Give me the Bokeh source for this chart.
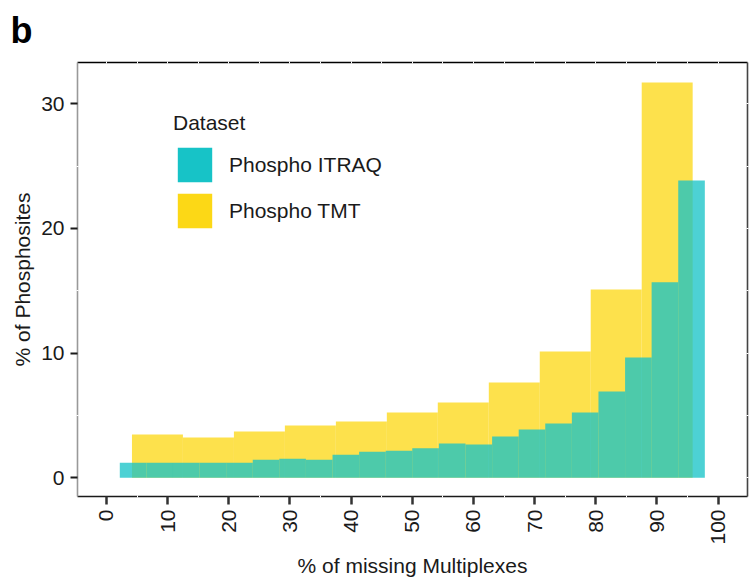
import math

from bokeh.plotting import figure
from bokeh.models import Range1d, LinearAxis, FixedTicker, Legend, LegendItem
from bokeh.embed import file_html
from bokeh.resources import INLINE

FONT = "Liberation Sans"
ITRAQ_COLOR = "#17C3C7"
TMT_COLOR = "#FCD816"
BAR_ALPHA = 0.77

# % of missing multiplexes (bin centres) and % of phosphosites per bin
itraq_missing = [4.35, 8.70, 13.04, 17.39, 21.74, 26.09, 30.43, 34.78, 39.13, 43.48, 47.83,
                 52.17, 56.52, 60.87, 65.22, 69.57, 73.91, 78.26, 82.61, 86.96, 91.30, 95.65]
itraq_pct = [1.20, 1.20, 1.20, 1.20, 1.20, 1.44, 1.52, 1.44, 1.84, 2.08, 2.17,
             2.37, 2.75, 2.67, 3.31, 3.87, 4.36, 5.24, 6.92, 9.65, 15.69, 23.85]
itraq_bin_width = 4.35

tmt_missing = [8.33, 16.67, 25.00, 33.33, 41.67, 50.00, 58.33, 66.67, 75.00, 83.33, 91.67]
tmt_pct = [3.47, 3.23, 3.71, 4.20, 4.52, 5.24, 6.04, 7.64, 10.13, 15.10, 31.71]
tmt_bin_width = 8.33

x_ticks = [0, 10, 20, 30, 40, 50, 60, 70, 80, 90, 100]
x_minor = [5, 15, 25, 35, 45, 55, 65, 75, 85, 95]
x_every5 = [0, 5, 10, 15, 20, 25, 30, 35, 40, 45, 50, 55, 60, 65, 70, 75, 80, 85, 90, 95, 100]
y_ticks = [0, 10, 20, 30]
y_minor = [5, 15, 25]
y_every5 = [0, 5, 10, 15, 20, 25, 30]

p = figure(width=750, height=582, output_backend="svg", toolbar_location=None,
           x_range=Range1d(-4.74, 104.8), y_range=Range1d(-1.5, 33.31),
           x_axis_location=None, y_axis_location=None,
           min_border_left=77, min_border_right=3, min_border_top=62, min_border_bottom=86)
p.grid.grid_line_color = None
p.outline_line_color = None
p.background_fill_color = "white"
p.border_fill_color = "white"

# panel letter
p.title.text = "b"
p.title.text_font = FONT
p.title.text_font_size = "36px"
p.title.text_font_style = "bold"
p.title.text_color = "black"
p.title.align = "left"
p.title.vertical_align = "top"
p.title.offset = -67
p.title.standoff = 17

# histogram bars: TMT underneath, ITRAQ on top
p.vbar(x=tmt_missing, top=tmt_pct, bottom=0, width=tmt_bin_width,
       fill_color=TMT_COLOR, fill_alpha=BAR_ALPHA, line_color=None)
p.vbar(x=itraq_missing, top=itraq_pct, bottom=0, width=itraq_bin_width,
       fill_color=ITRAQ_COLOR, fill_alpha=BAR_ALPHA, line_color=None)

# solid, hidden copies of the series that only feed the legend swatches
sw_itraq = p.vbar(x=itraq_missing, top=itraq_pct, width=itraq_bin_width,
                  fill_color=ITRAQ_COLOR, fill_alpha=1, line_color=None, visible=False)
sw_tmt = p.vbar(x=tmt_missing, top=tmt_pct, width=tmt_bin_width,
                fill_color=TMT_COLOR, fill_alpha=1, line_color=None, visible=False)

# bottom axis
xb = LinearAxis(ticker=FixedTicker(ticks=x_ticks, minor_ticks=x_minor),
                axis_label="% of missing Multiplexes")
xb.axis_line_color = "#1a1a1a"
xb.axis_line_width = 1.6
xb.major_tick_line_color = "#333333"
xb.major_tick_line_width = 2.5
xb.major_tick_in = 0
xb.major_tick_out = 8
xb.minor_tick_line_color = "white"
xb.minor_tick_line_width = 1
xb.minor_tick_in = 1
xb.minor_tick_out = 1
xb.major_label_orientation = math.pi / 2
xb.major_label_standoff = 5
xb.major_label_text_font = FONT
xb.major_label_text_font_size = "21px"
xb.major_label_text_color = "#1a1a1a"
xb.axis_label_text_font = FONT
xb.axis_label_text_font_size = "21px"
xb.axis_label_text_font_style = "normal"
xb.axis_label_text_color = "#1a1a1a"
xb.axis_label_standoff = 6
p.add_layout(xb, "below")

# left axis
yl = LinearAxis(ticker=FixedTicker(ticks=y_ticks, minor_ticks=y_minor),
                axis_label="% of Phosphosites")
yl.axis_line_color = "#999999"
yl.axis_line_width = 1.6
yl.major_tick_line_color = "#1a1a1a"
yl.major_tick_line_width = 2
yl.major_tick_in = 0
yl.major_tick_out = 7
yl.minor_tick_line_color = "white"
yl.minor_tick_line_width = 1
yl.minor_tick_in = 1
yl.minor_tick_out = 1
yl.major_label_standoff = 6
yl.major_label_text_font = FONT
yl.major_label_text_font_size = "21px"
yl.major_label_text_color = "#1a1a1a"
yl.axis_label_text_font = FONT
yl.axis_label_text_font_size = "21px"
yl.axis_label_text_font_style = "normal"
yl.axis_label_text_color = "#1a1a1a"
yl.axis_label_standoff = 4
p.add_layout(yl, "left")

# top and right frame lines with small white notches every 5 units
# (minor ticks only, so no labels are produced)
xt = LinearAxis(ticker=FixedTicker(ticks=[], minor_ticks=x_every5))
yr = LinearAxis(ticker=FixedTicker(ticks=[], minor_ticks=y_every5))
for ax, col in ((xt, "black"), (yr, "#444444")):
    ax.axis_line_color = col
    ax.axis_line_width = 1.6
    ax.major_tick_line_color = None
    ax.major_tick_in = 0
    ax.major_tick_out = 0
    ax.minor_tick_line_color = "white"
    ax.minor_tick_line_width = 1
    ax.minor_tick_in = 1
    ax.minor_tick_out = 1
    ax.major_label_standoff = 0
p.add_layout(xt, "above")
p.add_layout(yr, "right")

legend = Legend(items=[LegendItem(label="Phospho ITRAQ", renderers=[sw_itraq]),
                       LegendItem(label="Phospho TMT", renderers=[sw_tmt])],
                location=(96, 264), title="Dataset",
                title_text_font=FONT, title_text_font_size="21px",
                title_text_font_style="normal", title_text_color="#1a1a1a",
                title_standoff=8,
                label_text_font=FONT, label_text_font_size="21px",
                label_text_color="#1a1a1a",
                glyph_width=43, glyph_height=43, spacing=3, label_standoff=13,
                padding=0, margin=0, border_line_color=None,
                background_fill_alpha=0)
p.add_layout(legend, "center")

open("out.html", "w").write(file_html(p, INLINE))
